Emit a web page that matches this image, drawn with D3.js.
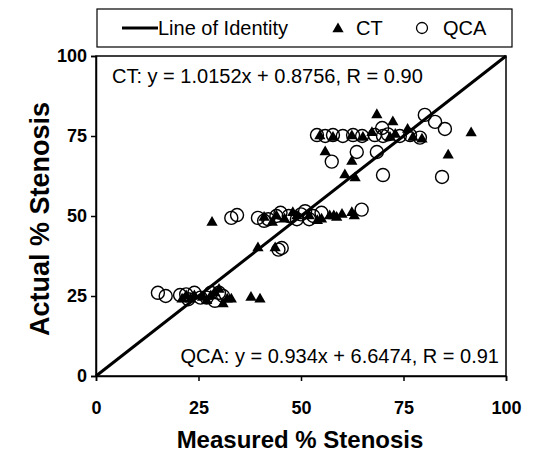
<!DOCTYPE html>
<html lang="en">
<head>
<meta charset="utf-8">
<script src="https://d3js.org/d3.v7.min.js"></script>
<style>
  body { margin: 0; background: #fff; }
  text { font-family: "Liberation Sans", Arial, sans-serif; }
</style>
</head>
<body>
<script>
// CT points [measured, actual]
const ctPoints = [
  [21, 24], [22, 25], [23, 24], [24, 25], [26, 24.5], [27, 23.5], [28, 25], [29, 26],
  [30, 27], [31, 22.5], [32, 24], [33, 24], [37.8, 24.5], [40, 24],
  [39.5, 40], [43.7, 40],
  [28.3, 48], [41, 49.5], [43, 48], [44, 50], [46, 49], [48, 51], [49, 50], [52, 50],
  [54, 48.5], [55, 49], [57, 50], [58, 50], [58.7, 49.5], [60, 50.5], [62.4, 51], [63, 50],
  [54.6, 75], [57.8, 74.5], [62.4, 75], [65.1, 74.5], [67.3, 76], [71.7, 74.5], [73, 75.5],
  [77.3, 74.5], [79.5, 74], [68.5, 81.6], [72.4, 79.4], [91.5, 75.9], [85.9, 69],
  [55.9, 70], [62.4, 67], [60.7, 62.8], [63.2, 61.9], [76, 77]
];
// QCA points [measured, actual]
const qcaPoints = [
  [15.1, 26], [17, 25], [20.5, 25.3], [22, 25.5], [24, 26], [25.5, 24.5], [27, 24.5],
  [28, 26], [29, 23.5], [30, 26], [31, 25], [22.5, 24],
  [44.5, 39.5], [45.3, 40],
  [33, 49.4], [34.4, 50.3], [39.5, 49.4], [42, 49], [44, 50], [45, 51], [47, 50],
  [49, 49], [50, 50.5], [51, 51.5], [52, 49], [53, 50], [55, 51], [64.8, 52], [41, 48.5],
  [53.9, 75.3], [55.9, 75], [57.8, 75.3], [60.2, 75], [62.7, 75.3], [64.9, 75], [68, 75.3],
  [70, 75], [71.2, 75.5], [74.1, 75], [76.6, 75.3], [79, 74.5],
  [80.2, 81.6], [82.7, 79.4], [85.1, 77.2], [69.8, 77.5],
  [84.4, 62.2], [70, 62.8], [57.5, 67], [63.6, 70], [68.5, 70]
];
const ticks = [0, 25, 50, 75, 100];

const W = 533, H = 459;
const svg = d3.select("body").append("svg")
  .attr("width", W).attr("height", H);

const x = d3.scaleLinear().domain([0, 100]).range([96, 506]);
const y = d3.scaleLinear().domain([0, 100]).range([376, 56]);

// plot frame
svg.append("rect")
  .attr("x", x(0)).attr("y", y(100))
  .attr("width", x(100) - x(0)).attr("height", y(0) - y(100))
  .attr("fill", "none").attr("stroke", "#000").attr("stroke-width", 1.5);

// axes
const xAxis = svg.append("g")
  .attr("transform", "translate(0," + y(0) + ")")
  .call(d3.axisBottom(x).tickValues(ticks).tickSize(5).tickPadding(20));
const yAxis = svg.append("g")
  .attr("transform", "translate(" + x(0) + ",0)")
  .call(d3.axisLeft(y).tickValues(ticks).tickSize(5).tickPadding(4));
[xAxis, yAxis].forEach(function(a) {
  a.select(".domain").attr("stroke-width", 1.5);
  a.selectAll("line").attr("stroke-width", 1.5);
  a.selectAll("text")
    .attr("font-size", 18).attr("font-weight", "bold")
    .attr("font-family", "Liberation Sans, Arial, sans-serif");
});

// line of identity
svg.append("line")
  .attr("x1", x(0)).attr("y1", y(0)).attr("x2", x(100)).attr("y2", y(100))
  .attr("stroke", "#000").attr("stroke-width", 3);

// CT triangles
const tri = d3.symbol().type(d3.symbolTriangle).size(55);
svg.append("g").selectAll("path")
  .data(ctPoints).enter().append("path")
  .attr("d", tri)
  .attr("transform", function(d) { return "translate(" + x(d[0]) + "," + y(d[1]) + ")"; })
  .attr("fill", "#000");

// QCA circles
svg.append("g").selectAll("circle")
  .data(qcaPoints).enter().append("circle")
  .attr("cx", function(d) { return x(d[0]); })
  .attr("cy", function(d) { return y(d[1]); })
  .attr("r", 6.5)
  .attr("fill", "none").attr("stroke", "#000").attr("stroke-width", 1.4);

// regression texts
svg.append("text").attr("x", 112).attr("y", 83)
  .attr("font-size", 20).text("CT: y = 1.0152x + 0.8756, R = 0.90");
svg.append("text").attr("x", 499).attr("y", 363).attr("text-anchor", "end")
  .attr("font-size", 20).text("QCA: y = 0.934x + 6.6474, R = 0.91");

// axis titles
svg.append("text").attr("x", 300).attr("y", 448).attr("text-anchor", "middle")
  .attr("font-size", 24).attr("font-weight", "bold").text("Measured % Stenosis");
svg.append("text").attr("transform", "translate(49,219) rotate(-90)")
  .attr("text-anchor", "middle")
  .attr("font-size", 27).attr("font-weight", "bold").text("Actual % Stenosis");

// legend
const lg = svg.append("g");
lg.append("rect").attr("x", 97).attr("y", 9).attr("width", 415).attr("height", 38)
  .attr("fill", "#fff").attr("stroke", "#000").attr("stroke-width", 1.2);
lg.append("line").attr("x1", 122).attr("x2", 158).attr("y1", 28).attr("y2", 28)
  .attr("stroke", "#000").attr("stroke-width", 3);
lg.append("text").attr("x", 158).attr("y", 35).attr("font-size", 20).text("Line of Identity");
lg.append("path").attr("d", tri).attr("transform", "translate(338,29)").attr("fill", "#000");
lg.append("text").attr("x", 356).attr("y", 35).attr("font-size", 20).text("CT");
lg.append("circle").attr("cx", 422).attr("cy", 28).attr("r", 5.5)
  .attr("fill", "none").attr("stroke", "#000").attr("stroke-width", 1.3);
lg.append("text").attr("x", 443).attr("y", 35).attr("font-size", 20).text("QCA");
</script>
</body>
</html>
